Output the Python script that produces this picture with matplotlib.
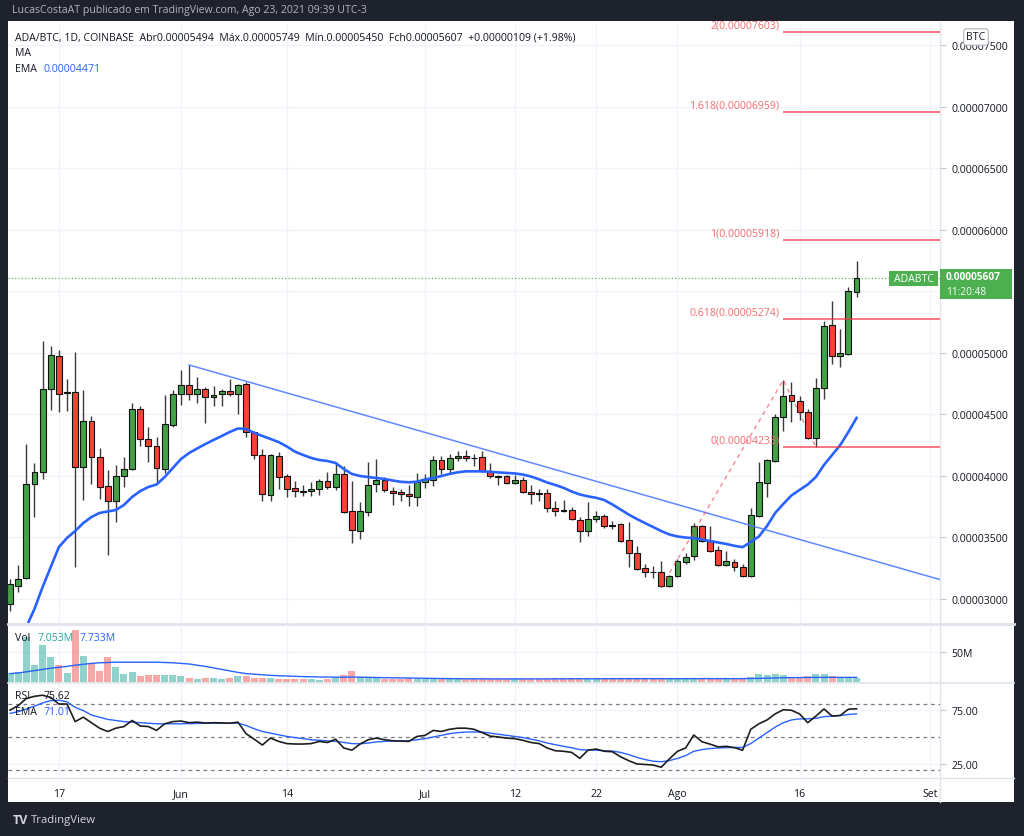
import numpy as np
import pandas as pd
import matplotlib
matplotlib.use("Agg")
import matplotlib.pyplot as plt
from matplotlib.patches import Rectangle

plt.rcParams['font.family'] = ['Open Sans', 'DejaVu Sans']

# ---------------- data (prices in satoshi = 1e-8 BTC) ----------------
start_date = "2021-05-11"
opens = [2959, 3106, 3171, 3934, 4032, 4706, 4974, 4673, 4682, 4072,
         4446, 4154, 3918, 3796, 3999, 4056, 4544, 4300, 4243, 4056,
         4414, 4665, 4738, 4665, 4706, 4641, 4665, 4690, 4665, 4747,
         4357, 4170, 3845, 4162, 3999, 3902, 3877, 3877, 3894, 3959,
         3910, 4016, 3715, 3552, 3707, 3934, 3967, 3877, 3869, 3853,
         3829, 3950, 3967, 4129, 4056, 4146, 4162, 4146, 4154, 4040,
         3999, 3999, 3942, 3967, 3869, 3861, 3861, 3739, 3723, 3723,
         3642, 3552, 3650, 3674, 3601, 3609, 3479, 3374, 3252, 3223,
         3219, 3106, 3187, 3301, 3349, 3593, 3471, 3398, 3276, 3301,
         3260, 3187, 3677, 3942, 4121, 4479, 4657, 4609, 4519, 4308,
         4714, 5226, 4974, 4990, 5494]
highs = [3162, 3276, 4259, 4105, 5098, 5055, 5023, 4787, 5007, 4698,
         4487, 4227, 4048, 4089, 4154, 4592, 4568, 4397, 4316, 4657,
         4698, 4860, 4901, 4803, 4722, 4730, 4706, 4787, 4747, 4763,
         4365, 4219, 4178, 4194, 4016, 3959, 3926, 3950, 3975, 4032,
         4105, 4081, 3959, 3788, 4113, 4137, 3991, 3910, 3894, 3926,
         4024, 4016, 4162, 4162, 4178, 4202, 4210, 4178, 4202, 4105,
         4007, 4007, 4007, 3991, 3926, 3894, 3894, 3796, 3804, 3747,
         3666, 3788, 3715, 3690, 3634, 3617, 3626, 3431, 3284, 3268,
         3309, 3195, 3325, 3374, 3617, 3601, 3593, 3431, 3390, 3325,
         3284, 3739, 4111, 4137, 4503, 4779, 4763, 4649, 4544, 4795,
         5260, 5421, 5193, 5535, 5749]
lows = [2903, 3057, 3162, 3666, 3975, 4535, 4519, 4527, 3260, 3804,
        3934, 3812, 3357, 3626, 3910, 4048, 4243, 4113, 3950, 4024,
        4397, 4576, 4617, 4592, 4430, 4568, 4568, 4649, 4503, 4316,
        4137, 3796, 3796, 3894, 3829, 3829, 3837, 3837, 3845, 3894,
        3886, 3700, 3455, 3487, 3674, 3869, 3869, 3764, 3796, 3756,
        3756, 3902, 3918, 4016, 4016, 4121, 4121, 4081, 4032, 3983,
        3926, 3934, 3934, 3861, 3772, 3796, 3707, 3674, 3707, 3642,
        3463, 3512, 3626, 3577, 3569, 3463, 3260, 3236, 3179, 3171,
        3097, 3097, 3179, 3284, 3317, 3463, 3382, 3268, 3268, 3227,
        3179, 3179, 3664, 3826, 4113, 4365, 4438, 4454, 4300, 4233,
        4625, 4909, 4885, 4982, 5450]
closes = [3122, 3162, 3934, 4032, 4706, 4982, 4665, 4682, 4072, 4446,
          4154, 3910, 3796, 3999, 4056, 4544, 4300, 4243, 4064, 4422,
          4665, 4738, 4665, 4706, 4641, 4657, 4690, 4665, 4738, 4357,
          4170, 3853, 4170, 3991, 3894, 3877, 3873, 3894, 3959, 3910,
          4016, 3707, 3561, 3715, 3926, 3967, 3886, 3861, 3853, 3837,
          3950, 3975, 4129, 4056, 4146, 4162, 4146, 4142, 4040, 3999,
          3991, 3942, 3967, 3869, 3853, 3853, 3739, 3715, 3715, 3650,
          3552, 3650, 3674, 3593, 3593, 3471, 3374, 3244, 3219, 3219,
          3106, 3187, 3309, 3341, 3593, 3471, 3390, 3276, 3309, 3260,
          3187, 3682, 3948, 4132, 4479, 4649, 4609, 4519, 4308, 4714,
          5218, 4974, 4998, 5502, 5607]
ema_price = [np.nan, np.nan, 2773, 2919, 3097, 3260, 3422, 3496, 3552, 3617,
             3666, 3699, 3711, 3723, 3764, 3829, 3877, 3910, 3930, 3991,
             4064, 4137, 4186, 4223, 4259, 4292, 4324, 4357, 4385, 4381,
             4349, 4324, 4300, 4275, 4239, 4197, 4170, 4146, 4129, 4121,
             4105, 4056, 4016, 3999, 3991, 3983, 3975, 3963, 3952, 3948,
             3953, 3971, 3983, 3999, 4016, 4029, 4037, 4037, 4037, 4033,
             4028, 4024, 4020, 4011, 3995, 3972, 3946, 3926, 3903, 3873,
             3849, 3834, 3822, 3804, 3768, 3727, 3686, 3650, 3617, 3585,
             3552, 3524, 3508, 3499, 3494, 3483, 3471, 3459, 3447, 3432,
             3421, 3463, 3508, 3593, 3699, 3772, 3841, 3886, 3930, 3991,
             4089, 4170, 4251, 4357, 4471]
volume_m = [15, 17, 75, 28, 61, 42, 29, 15, 87, 44,
            32, 18, 42, 25, 14, 16, 9.4, 12, 11, 11,
            11, 10, 6.7, 5, 6.7, 6.7, 4.4, 6.7, 10, 10,
            7, 7, 6.7, 5.6, 5.6, 5, 4.4, 5.6, 4, 5,
            7, 12, 19, 8, 7, 6.7, 5.6, 5.6, 5.6, 7,
            5.6, 5.6, 6, 5.5, 5.5, 5, 5, 5, 5.5, 5,
            5, 5, 5, 5, 5, 5, 5, 5.5, 5, 7,
            5.5, 5.5, 5, 5, 5, 7, 6, 5.5, 5, 5,
            6, 6, 5.5, 5.5, 7, 6, 5.5, 5.5, 5, 5,
            5.5, 9, 13, 12, 14, 12, 9, 8, 10, 13,
            14, 10, 8, 8, 7.053]
volume_ma_m = [14, 15, 17, 19, 21, 23, 24.5, 26, 28, 29.5,
               31, 32, 32.5, 33, 33, 33, 33, 33, 33, 32.5,
               32, 31, 30, 28, 26, 23.5, 21, 18.5, 16, 14,
               13, 12, 11, 10.5, 10, 9.5, 9, 8.7, 8.4, 8.2,
               8, 8, 8.2, 8, 7.8, 7.5, 7.2, 7, 6.8, 6.6,
               6.4, 6.2, 6, 5.8, 5.6, 5.5, 5.4, 5.3, 5.3, 5.2,
               5.2, 5.2, 5.2, 5.2, 5.2, 5.2, 5.2, 5.3, 5.3, 5.4,
               5.4, 5.4, 5.4, 5.4, 5.5, 5.5, 5.5, 5.5, 5.5, 5.5,
               5.5, 5.5, 5.5, 5.5, 5.6, 5.6, 5.6, 5.6, 5.6, 5.6,
               5.6, 5.8, 6.1, 6.4, 6.8, 7.1, 7.3, 7.4, 7.5, 7.6,
               7.7, 7.7, 7.7, 7.7, 7.733]
rsi = [74.5, 78.5, 85, 87, 88, 86, 80, 80, 64, 68,
       63, 58, 55, 58, 59.5, 65, 60, 59.5, 56, 62,
       64, 64.5, 63, 63.5, 62.7, 63, 62.8, 62.5, 63.5, 53,
       48, 42.7, 49, 46, 44, 43.6, 43.6, 44, 46, 45,
       48, 40, 38, 43.6, 47.5, 49, 47.5, 46.6, 46.2, 46,
       50.5, 51.5, 56, 55, 57, 58, 58, 57, 54, 50.8,
       50, 49, 48.5, 47, 45, 44, 40, 37.5, 37, 36,
       30.6, 38, 39, 37, 36.6, 32, 28.5, 25.5, 25, 24.5,
       22.5, 30, 37, 40, 51.8, 45.7, 43.5, 41, 41.5, 40.3,
       38, 57, 62, 65.5, 71, 74.8, 74.3, 71, 63, 69,
       75.5, 69, 69.6, 75.3, 75.62]
rsi_ema = [71.5, 73, 75.5, 78, 81, 83, 83.5, 82, 77, 74,
           70, 68, 66, 65, 64, 63.5, 63, 62.5, 62, 62,
           62, 62, 62.2, 62.3, 62.5, 62.5, 62.5, 62.5, 62.6, 60.5,
           57.5, 55, 53.5, 52, 50.5, 49.5, 48.5, 47.5, 47, 46.5,
           46, 45, 44, 43.8, 44.5, 45.5, 46, 46.3, 46.5, 46.6,
           47.5, 48.5, 50, 51.5, 53, 54, 54.5, 54.6, 54.4, 53.5,
           52.5, 51.5, 50.5, 49.5, 48, 46.5, 44.5, 43, 41.5, 40.2,
           38.5, 38.2, 38, 37.6, 37.2, 36, 34, 31.5, 29.5, 28,
           27.5, 28.5, 30.5, 33, 37, 38.5, 39.5, 40, 40.3, 40.5,
           40.5, 44, 49, 54, 59, 63, 65.5, 66.5, 66.5, 67,
           68.5, 69, 69.5, 70.5, 71.01]

trend_idx = [22, 91]           # trendline anchor candles
trend_val = [4901, 3597]
fib_path_idx = [80, 95, 99]    # trend-based fib extension points
fib_path_val = [3097, 4779, 4233]
fib_labels = ["0", "0.618", "1", "1.618", "2"]
fib_values = [4233, 5274, 5918, 6959, 7603]
price_ticks = [3000, 3500, 4000, 4500, 5000, 5500, 6000, 6500, 7000, 7500]
tick_dates = ["2021-05-17", "2021-06-01", "2021-06-14", "2021-07-01", "2021-07-12",
              "2021-07-22", "2021-08-01", "2021-08-16", "2021-09-01"]
tick_labels = ["17", "Jun", "14", "Jul", "12", "22", "Ago", "16", "Set"]
last_price = 5607

# ---------------- derived ----------------
opens = np.array(opens, float); highs = np.array(highs, float)
lows = np.array(lows, float); closes = np.array(closes, float)
dates = pd.date_range(start_date, periods=len(opens), freq="D")
idx = np.arange(len(opens))
tick_pos = (pd.to_datetime(tick_dates) - dates[0]).days.values
up = closes >= opens

W, H = 1024, 837
BG = "#1e222d"
TXT = "#131722"
GRID = "#f0f3fa"
SEP = "#e0e3eb"
BLUE = "#2962ff"
GREEN = "#43a047"
RED = "#f44336"
FIB = "#f23645"
FS = 7.6

fig = plt.figure(figsize=(W / 100, H / 100), dpi=100, facecolor=BG)
fx = lambda p: p / W
fy = lambda p: 1 - p / H

fig.patches.append(Rectangle((fx(8), fy(803)), fx(1014) - fx(8), fy(22) - fy(803),
                             transform=fig.transFigure, facecolor="white",
                             edgecolor="none", zorder=-10))

XL = (-0.25, 114.25)


def make_ax(top, bottom):
    a = fig.add_axes([fx(8), fy(bottom), fx(940) - fx(8), fy(top) - fy(bottom)])
    a.set_zorder(1)
    a.set_facecolor("none")
    for s in a.spines.values():
        s.set_visible(False)
    a.set_xlim(*XL)
    a.set_xticks(tick_pos)
    a.tick_params(axis="x", length=0, labelbottom=False)
    a.yaxis.tick_right()
    a.tick_params(axis="y", length=4, color="#c5c8d0", labelsize=FS,
                  labelcolor=TXT, pad=4)
    a.grid(True, color=GRID, lw=1)
    a.set_axisbelow(True)
    return a


# ---------------- main price panel ----------------
ax = make_ax(24, 624)
ax.set_ylim(2805, 7679)
ax.set_yticks(price_ticks)
# the tick label that sits under the last-price badge is hidden by it
ax.set_yticklabels([("" if abs(v - last_price) < 150 else f"{v / 1e8:.8f}")
                    for v in price_ticks])

ax.vlines(idx, lows, highs, color="#3b3b3b", lw=1.0, zorder=2)
ax.bar(idx, closes - opens, bottom=opens, width=0.72,
       color=np.where(up, GREEN, RED), edgecolor="#111111", linewidth=0.8, zorder=3)

ax.plot(idx, ema_price, color=BLUE, lw=1.9, zorder=4)

slope = (trend_val[1] - trend_val[0]) / (trend_idx[1] - trend_idx[0])
ax.plot([trend_idx[0], XL[1]], [trend_val[0], trend_val[0] + slope * (XL[1] - trend_idx[0])],
        color="#4f7dff", lw=1.1, alpha=0.9, zorder=5)

ax.plot(fib_path_idx, fib_path_val, color=FIB, lw=1.0, alpha=0.6,
        ls=(0, (3, 3)), zorder=5)
ax.hlines(fib_values, fib_path_idx[1], XL[1], colors=FIB, lw=1.1, alpha=0.85, zorder=5)
for lab, v in zip(fib_labels, fib_values):
    ax.annotate(f"{lab}({v / 1e8:.8f})", xy=(fib_path_idx[1], v), xytext=(-4, 7),
                textcoords="offset pixels", ha="right", va="center",
                fontsize=FS, color="#f26d6d", zorder=6)

ax.axhline(last_price, color="#4caf50", ls=(0, (1, 2)), lw=0.8, zorder=1)

# ---------------- volume panel ----------------
axv = make_ax(626, 683)
axv.set_ylim(0, 95)
axv.set_yticks([50])
axv.set_yticklabels(["50M"])
axv.bar(idx, volume_m, width=0.86,
        color=np.where(up, "#26a69a", "#ef5350"), alpha=0.5, zorder=2)
axv.plot(idx, volume_ma_m, color=BLUE, lw=1.0, zorder=3)

# ---------------- RSI panel ----------------
axr = make_ax(685, 779)
axr.set_ylim(12.7, 98.2)
axr.set_yticks([25, 75])
axr.set_yticklabels(["25.00", "75.00"])
for lvl in (80, 50, 20):
    axr.axhline(lvl, color="#787b86", lw=0.9, ls=(0, (3, 3)), zorder=1)
axr.plot(idx, rsi, color="#1e1e1e", lw=1.2, zorder=3)
axr.plot(idx, rsi_ema, color=BLUE, lw=1.0, zorder=2)
axr.tick_params(axis="x", labelbottom=True, labelsize=FS, labelcolor=TXT, pad=7)
axr.set_xticklabels(tick_labels)

# ---------------- separators ----------------
for yy, lw in ((625, 2.0), (684, 1.2), (779, 1.0)):
    fig.add_artist(plt.Line2D([fx(8), fx(1014)], [fy(yy), fy(yy)], color=SEP, lw=lw, zorder=0))
fig.add_artist(plt.Line2D([fx(940), fx(940)], [fy(24), fy(803)], color=SEP, lw=1.0, zorder=0))

# ---------------- texts ----------------
fig.text(fx(12), fy(11), "LucasCostaAT publicado em TradingView.com, Ago 23, 2021 09:39 UTC-3",
         color="#b2b5be", fontsize=FS, va="center")
fig.text(fx(15), fy(38), "ADA/BTC, 1D, COINBASE  Abr0.00005494  Máx.0.00005749  Mín.0.00005450  "
         "Fch0.00005607  +0.00000109 (+1.98%)", color=TXT, fontsize=FS, va="center", zorder=5)
fig.text(fx(15), fy(54), "MA", color=TXT, fontsize=FS, va="center", zorder=5)
fig.text(fx(15), fy(69), "EMA", color=TXT, fontsize=FS, va="center", zorder=5)
fig.text(fx(43), fy(69), f"{ema_price[-1] / 1e8:.8f}", color=BLUE, fontsize=FS, va="center", zorder=5)

fig.text(fx(15), fy(639), "Vol", color=TXT, fontsize=FS, va="center", zorder=5)
fig.text(fx(37), fy(639), f"{volume_m[-1]:.3f}M", color="#26a69a", fontsize=FS, va="center", zorder=5)
fig.text(fx(79), fy(639), f"{volume_ma_m[-1]:.3f}M", color=BLUE, fontsize=FS, va="center", zorder=5)
fig.text(fx(15), fy(697), "RSI", color=TXT, fontsize=FS, va="center", zorder=5)
fig.text(fx(43), fy(697), f"{rsi[-1]:.2f}", color=TXT, fontsize=FS, va="center", zorder=5)
fig.text(fx(15), fy(713), "EMA", color=TXT, fontsize=FS, va="center", zorder=5)
fig.text(fx(43), fy(713), f"{rsi_ema[-1]:.2f}", color=BLUE, fontsize=FS, va="center", zorder=5)

# BTC currency box
fig.text(fx(976), fy(38), "BTC", color=TXT, fontsize=FS, ha="center", va="center",
         bbox=dict(boxstyle="round,pad=0.25", fc="white", ec="#b2b5be", lw=0.8), zorder=10)

# last price labels
fig.patches.append(Rectangle((fx(940), fy(300)), fx(1012) - fx(940), fy(270) - fy(300),
                             transform=fig.transFigure, facecolor="#4caf50",
                             edgecolor="none", zorder=9))
fig.text(fx(946), fy(278), f"{last_price / 1e8:.8f}", color="white", fontsize=7.3,
         fontweight="bold", va="center", zorder=10)
fig.text(fx(946), fy(292.5), "11:20:48", color="white", fontsize=7.3, va="center", zorder=10)
fig.patches.append(Rectangle((fx(889), fy(287)), fx(938) - fx(889), fy(272) - fy(287),
                             transform=fig.transFigure, facecolor="#4caf50",
                             edgecolor="none", zorder=9))
fig.text(fx(913.5), fy(280), "ADABTC", color="white", fontsize=FS, ha="center",
         va="center", zorder=10)

# footer logo
fig.text(fx(13), fy(821), "TV", color="#d1d4dc", fontsize=9, fontweight="bold", va="center")
fig.text(fx(31), fy(821), "TradingView", color="#d1d4dc", fontsize=8.2, va="center")

fig.savefig("out.png", dpi=100, facecolor=BG)
